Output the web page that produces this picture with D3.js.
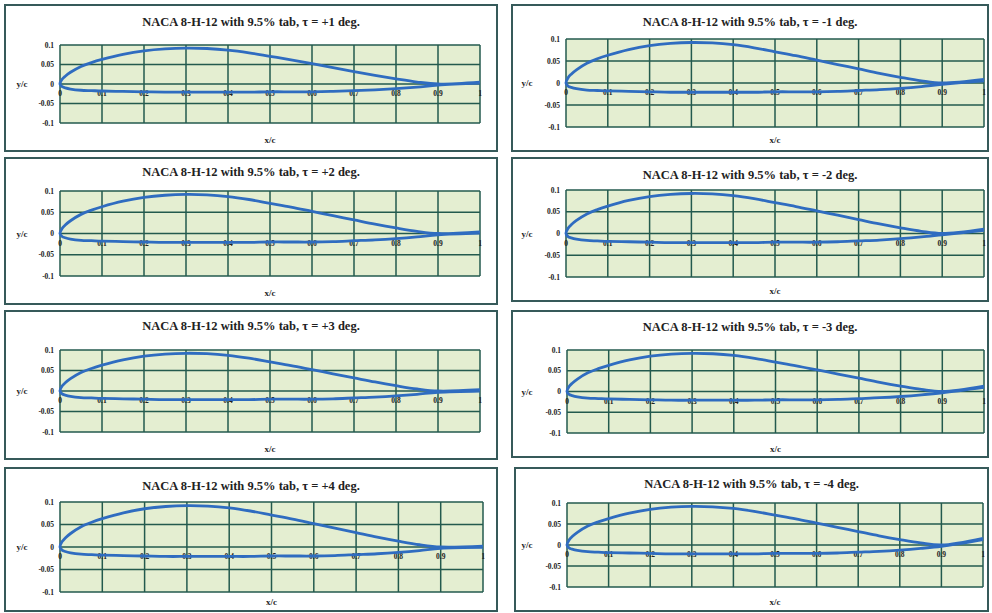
<!DOCTYPE html>
<html><head><meta charset="utf-8">
<script src="https://cdn.jsdelivr.net/npm/d3@7"></script>
<style>body{margin:0;background:#fff}svg{display:block}</style>
</head><body>
<script>
// ---- data ----
const tauLabels = ["+1","+2","+3","+4","-1","-2","-3","-4"];
const xSurface = [0,0.005,0.0125,0.025,0.05,0.075,0.1,0.15,0.2,0.25,0.3,0.35,0.4,0.45,0.5,0.55,0.6,0.65,0.7,0.75,0.8,0.85,0.9];
const yUpper   = [0,0.012,0.02,0.03,0.045,0.055,0.063,0.076,0.085,0.09,0.092,0.091,0.087,0.08,0.071,0.062,0.052,0.042,0.032,0.022,0.013,0.005,0.0];
const yLower   = [0,-0.007,-0.01,-0.013,-0.016,-0.017,-0.018,-0.019,-0.02,-0.021,-0.021,-0.021,-0.021,-0.021,-0.02,-0.02,-0.02,-0.019,-0.017,-0.015,-0.012,-0.008,-0.003];
const tabX     = 1.0;
const tabEndUpper = [0.005,0.004,0.003,0.002,0.008,0.010,0.013,0.016];
const tabEndLower = [0.002,0.001,0.000,-0.001,0.005,0.007,0.010,0.013];
const xTicks = [0,0.1,0.2,0.3,0.4,0.5,0.6,0.7,0.8,0.9,1];
const xTickLabels = ["0","0.1","0.2","0.3","0.4","0.5","0.6","0.7","0.8","0.9","1"];
const yTicks = [0.1,0.05,0,-0.05,-0.1];
const yTickLabels = ["0.1","0.05","0","-0.05","-0.1"];

// ---- layout (box x,y,w,h ; plot l,r,t,b ; title y ; x-label y ; y-label x) ----
const layout = [
  {box:[5,5,492,146],   plot:[60,480,45,123],  ty:22,  xly:140, ylx:22},
  {box:[5,158,492,146], plot:[60,480,191,276], ty:172, xly:293, ylx:22},
  {box:[5,311,492,148], plot:[60,480,350,432], ty:326, xly:449, ylx:22},
  {box:[5,468,492,143], plot:[60,483,502,592], ty:486, xly:602, ylx:22},
  {box:[512,5,476,146], plot:[566,984,39,127], ty:22,  xly:140, ylx:527},
  {box:[512,158,476,143],plot:[566,984,190,277],ty:175, xly:291, ylx:527},
  {box:[512,311,476,146],plot:[567,984,350,433],ty:327, xly:449, ylx:527},
  {box:[515,468,473,143],plot:[567,983,503,587],ty:484, xly:602, ylx:527}
];

const svg = d3.select("body").append("svg").attr("width",992).attr("height",613);
const gridCol = "#235a4e", curveCol = "#2f6cc0", serif = "'Liberation Serif','Times New Roman',serif";

tauLabels.forEach((tau,i)=>{
  const L = layout[i];
  const g = svg.append("g");
  const [bx,by,bw,bh] = L.box, [pl,pr,pt,pb] = L.plot;
  g.append("rect").attr("x",bx).attr("y",by).attr("width",bw).attr("height",bh)
    .attr("fill","#fff").attr("stroke","#365a5a").attr("stroke-width",2);
  const x = d3.scaleLinear().domain([0,1]).range([pl,pr]);
  const y = d3.scaleLinear().domain([-0.1,0.1]).range([pb,pt]);
  g.append("rect").attr("x",pl).attr("y",pt).attr("width",pr-pl).attr("height",pb-pt).attr("fill","#e4eed1");
  // gridlines
  g.selectAll(".vg").data(xTicks).join("line")
    .attr("x1",d=>x(d)).attr("x2",d=>x(d)).attr("y1",pt).attr("y2",pb)
    .attr("stroke",gridCol).attr("stroke-width",1.5);
  g.selectAll(".hg").data(yTicks).join("line")
    .attr("x1",pl).attr("x2",pr).attr("y1",d=>y(d)).attr("y2",d=>y(d))
    .attr("stroke",gridCol).attr("stroke-width",1.5);
  // y tick labels
  g.selectAll(".yl").data(yTicks).join("text")
    .attr("x",pl-6).attr("y",d=>y(d)).attr("dy","0.35em").attr("text-anchor","end")
    .attr("font-family",serif).attr("font-weight","bold").attr("font-size",7.5).attr("fill","#222")
    .text((d,j)=>yTickLabels[j]);
  // x tick labels along y=0
  g.selectAll(".xl").data(xTicks).join("text")
    .attr("x",d=>x(d)).attr("y",y(0)+12).attr("text-anchor","middle")
    .attr("font-family",serif).attr("font-weight","bold").attr("font-size",7.5).attr("fill","#222")
    .text((d,j)=>xTickLabels[j]);
  // airfoil
  const pts = [[tabX,tabEndUpper[i]]];
  for(let k=xSurface.length-1;k>=0;k--) pts.push([xSurface[k],yUpper[k]]);
  for(let k=1;k<xSurface.length;k++) pts.push([xSurface[k],yLower[k]]);
  pts.push([tabX,tabEndLower[i]]);
  const line = d3.line().x(d=>x(d[0])).y(d=>y(d[1])).curve(d3.curveCatmullRom.alpha(0.5));
  g.append("path").attr("d",line(pts)).attr("fill","none").attr("stroke",curveCol)
    .attr("stroke-width",2.8).attr("stroke-linejoin","round");
  // title and axis labels
  g.append("text").attr("x",bx+bw/2).attr("y",L.ty).attr("dy","0.35em").attr("text-anchor","middle")
    .attr("font-family",serif).attr("font-weight","bold").attr("font-size",12.5).attr("fill","#222")
    .text(`NACA 8-H-12 with 9.5% tab, τ = ${tau} deg.`);
  g.append("text").attr("x",(pl+pr)/2).attr("y",L.xly).attr("dy","0.35em").attr("text-anchor","middle")
    .attr("font-family",serif).attr("font-weight","bold").attr("font-size",9).attr("fill","#222").text("x/c");
  g.append("text").attr("x",L.ylx).attr("y",y(0)).attr("dy","0.35em").attr("text-anchor","middle")
    .attr("font-family",serif).attr("font-weight","bold").attr("font-size",9).attr("fill","#222").text("y/c");
});
</script>
</body></html>
